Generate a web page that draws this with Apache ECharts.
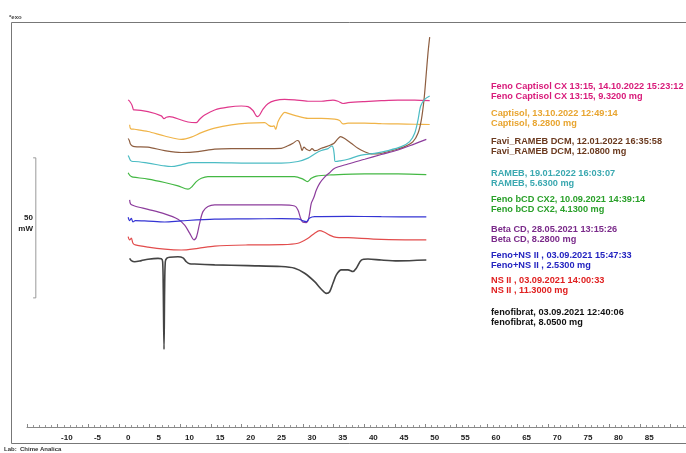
<!DOCTYPE html>
<html>
<head>
<meta charset="utf-8">
<script src="https://cdn.jsdelivr.net/npm/echarts@6/dist/echarts.min.js"></script>
<style>
  html, body { margin: 0; padding: 0; background: #fff; }
  #chart { width: 686px; height: 453px; }
</style>
</head>
<body>
<div id="chart"></div>
<script>
// DSC thermograms: temperature (°C) vs heat flow (mW, curves offset vertically)
const fenoCaptisolCX = [[0,116.8],[0.24,116.3],[0.63,114.9],[0.9,113.2],[1.06,113.2],[3.24,112.6],[5.41,111.1],[5.85,110.1],[6.23,110.6],[6.77,110.8],[8.67,109.6],[9.76,108.9],[11.12,108.7],[11.66,109.9],[12.48,111.4],[14.11,113.2],[16.29,114.2],[18.46,114.6],[19.55,114.4],[20.36,113.0],[21.07,110.8],[21.45,111.4],[22.0,113.5],[22.8,115.4],[23.9,116.5],[25.53,117.0],[27.16,116.8],[29.34,116.3],[31.51,116.3],[33.4,116.7],[34.23,116.3],[35.05,115.5],[35.86,115.8],[38.58,116.2],[41.3,116.5],[44.02,116.7],[46.74,116.7],[49.19,116.5]];
const captisol = [[0.24,107.9],[0.41,106.5],[1.06,106.3],[3.24,105.5],[5.95,103.9],[8.67,102.7],[10.3,103.5],[11.94,105.1],[14.11,106.7],[16.83,107.9],[19.55,108.5],[22.27,108.7],[22.92,107.7],[23.46,107.3],[23.79,107.5],[24.06,106.3],[24.44,109.0],[24.98,111.1],[25.53,112.3],[26.35,111.8],[27.43,111.1],[29.34,110.2],[31.51,110.2],[33.69,109.9],[34.5,109.4],[35.05,108.2],[35.86,108.5],[38.58,108.5],[41.3,108.3],[44.02,108.2],[46.74,108.1],[49.19,108.0]];
const faviRamebDCM = [[0,103.0],[0.19,102.3],[0.35,101.1],[0.63,100.4],[1.06,100.1],[3.24,99.9],[5.95,98.7],[8.67,98.0],[11.39,98.3],[14.11,99.2],[16.83,99.4],[19.55,99.4],[22.27,99.4],[24.98,99.5],[26.07,100.4],[26.89,101.3],[27.6,102.3],[27.87,102.0],[28.14,100.4],[28.36,98.7],[28.68,99.9],[29.07,99.2],[29.61,98.7],[29.99,99.4],[30.42,98.7],[30.97,98.9],[31.51,99.5],[32.33,100.1],[33.03,100.7],[33.58,101.3],[34.12,102.7],[34.66,103.7],[35.32,103.0],[36.4,101.3],[37.49,99.5],[38.58,98.3],[39.67,97.5],[40.75,97.5],[41.84,98.0],[43.47,98.9],[45.1,100.1],[46.47,101.9],[47.28,104.9],[47.82,109.6],[48.26,116.8],[48.59,125.1],[48.91,133.5],[49.19,139.2]];
const rameb = [[0,96.9],[0.24,95.8],[0.41,95.1],[0.79,94.8],[1.06,94.8],[3.24,94.2],[5.95,93.2],[7.04,93.0],[8.67,93.6],[10.3,94.4],[14.11,94.4],[19.55,94.2],[24.98,94.2],[27.7,94.8],[29.34,96.0],[30.42,97.5],[31.51,98.7],[32.6,99.4],[33.25,100.4],[33.47,99.5],[33.63,97.1],[33.79,94.8],[34.5,95.0],[35.86,95.6],[38.04,97.1],[40.21,97.7],[42.39,98.7],[44.56,100.1],[45.92,101.9],[46.74,104.9],[47.28,109.6],[47.72,114.6],[48.37,117.0],[49.19,118.2]];
const fenoBCDCX2 = [[0,90.8],[0.24,89.9],[0.52,89.4],[0.79,89.2],[3.24,88.5],[5.95,87.3],[8.13,86.1],[9.76,84.9],[10.41,85.8],[11.12,87.6],[11.94,88.8],[13.02,89.4],[16.83,89.4],[22.27,89.4],[27.16,89.4],[28.52,88.5],[29.23,87.6],[29.88,88.8],[30.7,89.6],[33.14,90.0],[38.58,90.4],[44.02,90.4],[48.64,90.1]];
const betaCD = [[0.24,81.1],[0.41,79.6],[1.06,78.9],[3.24,77.7],[5.95,76.1],[8.13,74.2],[9.22,72.1],[10.03,69.2],[10.74,66.8],[11.17,68.0],[11.66,72.7],[12.2,76.9],[13.02,78.7],[14.11,79.3],[19.55,79.3],[24.98,79.3],[27.16,78.9],[27.7,77.5],[28.14,74.5],[28.52,73.1],[29.07,73.0],[29.45,74.5],[29.88,79.9],[30.3,82.0],[30.7,84.6],[31.24,87.0],[32.05,89.2],[32.87,90.8],[33.69,92.4],[35.86,93.9],[38.58,95.6],[41.3,97.3],[44.02,98.9],[46.74,101.1],[48.64,102.7]];
const fenoNSII = [[0,74.9],[0.24,73.7],[0.52,74.5],[0.79,73.2],[1.17,73.7],[3.24,73.5],[5.95,73.2],[8.67,73.6],[14.11,74.2],[19.55,74.3],[24.98,74.4],[27.7,74.3],[28.52,73.6],[29.07,73.3],[29.61,74.6],[30.42,75.1],[35.86,75.2],[41.3,75.1],[48.64,75.0]];
const nsII = [[0,68.0],[0.24,66.8],[0.52,67.4],[0.79,65.6],[1.17,65.0],[3.24,64.2],[5.95,63.5],[8.67,63.2],[11.39,63.8],[14.11,64.6],[19.55,65.0],[24.98,65.1],[27.7,65.6],[29.34,67.4],[30.42,69.2],[31.24,70.1],[31.95,69.6],[32.87,68.5],[33.96,67.7],[35.86,67.6],[41.3,67.0],[48.64,66.8]];
const fenofibrat = [[0.24,60.2],[0.52,59.4],[1.06,59.0],[2.15,59.4],[3.24,59.9],[4.87,60.2],[5.41,60.1],[5.63,59.0],[5.73,48.9],[5.85,27.7],[5.95,48.9],[6.06,59.0],[6.28,60.2],[6.77,60.6],[8.13,60.8],[8.95,60.4],[9.49,59.0],[10.03,58.3],[10.85,58.2],[14.11,57.9],[19.55,57.6],[24.98,57.3],[27.16,56.7],[28.79,54.9],[30.42,51.9],[31.51,49.2],[32.33,47.7],[32.87,48.3],[33.41,51.3],[33.96,54.3],[34.77,56.1],[35.86,56.1],[36.67,55.5],[37.22,56.7],[38.04,59.6],[39.12,60.0],[41.3,59.6],[44.02,59.3],[48.64,59.6]];

// 50 mW scale bar (left of the curves)
const scaleBar = [[-15.5,96.1],[-15.06,96.1],[-15.06,46.1],[-15.5,46.1]];

// Sample captions, two lines each
const captions = [
  ['Feno Captisol CX 13:15, 14.10.2022 15:23:12', 'Feno Captisol CX 13:15, 9.3200 mg'],
  ['Captisol, 13.10.2022 12:49:14', 'Captisol, 8.2800 mg'],
  ['Favi_RAMEB DCM, 12.01.2022 16:35:58', 'Favi_RAMEB DCM, 12.0800 mg'],
  ['RAMEB, 19.01.2022 16:03:07', 'RAMEB, 5.6300 mg'],
  ['Feno bCD CX2, 10.09.2021 14:39:14', 'Feno bCD CX2, 4.1300 mg'],
  ['Beta CD, 28.05.2021 13:15:26', 'Beta CD, 8.2800 mg'],
  ['Feno+NS II , 03.09.2021 15:47:33', 'Feno+NS II , 2.5300 mg'],
  ['NS II , 03.09.2021 14:00:33', 'NS II , 11.3000 mg'],
  ['fenofibrat, 03.09.2021 12:40:06', 'fenofibrat, 8.0500 mg']
];
const captionY = [86, 113, 141, 173, 199, 229, 255, 280, 312];

const curves = [fenoCaptisolCX, captisol, faviRamebDCM, rameb, fenoBCDCX2, betaCD, fenoNSII, nsII, fenofibrat];
const lineColors = ['#e0388c', '#f0b448', '#8e5e40', '#4cbcc4', '#44b844', '#8c3c9c', '#3434d4', '#e24c4c', '#444444'];
const textColors = ['#d81b7a', '#e8a530', '#6b3a1f', '#3aa8b0', '#2aa02a', '#7a2a8a', '#2424c0', '#e02020', '#111111'];

const chart = echarts.init(document.getElementById('chart'));

const graphics = [
  { type: 'rect', shape: { x: 11.5, y: 22.5, width: 700, height: 421 },
    style: { fill: 'none', stroke: '#777', lineWidth: 1 }, silent: true },
  { type: 'text', x: 9, y: 17, style: { text: '*exo', fill: '#444', font: 'bold 6px "Liberation Sans", Arial', textVerticalAlign: 'middle' } },
  { type: 'text', x: 33, y: 218, style: { text: '50', fill: '#222', font: 'bold 8px "Liberation Sans", Arial', textAlign: 'right', textVerticalAlign: 'middle' } },
  { type: 'text', x: 33, y: 229, style: { text: 'mW', fill: '#222', font: 'bold 8px "Liberation Sans", Arial', textAlign: 'right', textVerticalAlign: 'middle' } },
  { type: 'text', x: 4, y: 449, style: { text: 'Lab:  Chime Analica', fill: '#333', font: 'bold 6px "Liberation Sans", Arial', textVerticalAlign: 'middle' } }
];
captions.forEach((pair, i) => {
  pair.forEach((line, j) => {
    graphics.push({
      type: 'text', x: 491, y: captionY[i] + j * 10.5,
      style: { text: line, fill: textColors[i], font: 'bold 9.2px "Liberation Sans", Arial', textVerticalAlign: 'middle' }
    });
  });
});

const series = curves.map((data, i) => ({
  type: 'line',
  data: data,
  showSymbol: false,
  smooth: 0.3,
  silent: true,
  lineStyle: { color: lineColors[i], width: i === 8 ? 1.6 : 1.2 },
  animation: false
}));
series.push({
  type: 'line', data: scaleBar, showSymbol: false, silent: true, animation: false,
  lineStyle: { color: '#999', width: 1 }
});

chart.setOption({
  animation: false,
  grid: { left: 27, right: 0, top: 22, bottom: 26, containLabel: false },
  xAxis: {
    type: 'value', min: -16.5, max: 91, interval: 5,
    axisLine: { lineStyle: { color: '#888' } },
    axisTick: { inside: true, length: 3, lineStyle: { color: '#888' } },
    minorTick: { show: true, splitNumber: 5, length: 2, lineStyle: { color: '#999' } },
    splitLine: { show: false },
    axisLabel: {
      color: '#222', fontSize: 8, fontWeight: 'bold', fontFamily: '"Liberation Sans", Arial', margin: 7,
      customValues: [-10,-5,0,5,10,15,20,25,30,35,40,45,50,55,60,65,70,75,80,85,90],
      formatter: v => (v >= -10 && v <= 85) ? String(v) : ''
    }
  },
  yAxis: { type: 'value', min: 0, max: 144.6, show: false },
  series: series,
  graphic: graphics
});
</script>
</body>
</html>
